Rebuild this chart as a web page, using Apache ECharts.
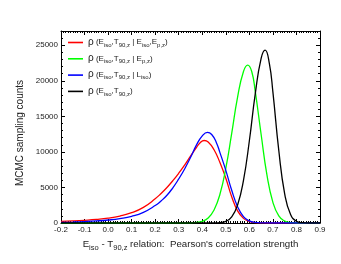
<!DOCTYPE html>
<html>
<head>
<meta charset="utf-8">
<script src="https://cdn.jsdelivr.net/npm/echarts@6/dist/echarts.min.js"></script>
<style>html,body{margin:0;padding:0;background:#fff}#c{width:341px;height:264px}</style>
</head>
<body>
<div id="c"></div>
<script>
// ---- data ----
const seriesNames = [
  'ρ (Eiso,T90,z | Eiso,Ep,z)',
  'ρ (Eiso,T90,z | Ep,z)',
  'ρ (Eiso,T90,z | Liso)',
  'ρ (Eiso,T90,z)'
];
const legendRich = [
  '{r|ρ} {b|(E}{s|iso}{b|,T}{s|90,z}{b| | E}{s|iso}{b|,E}{s|p,z}{b|)}',
  '{r|ρ} {b|(E}{s|iso}{b|,T}{s|90,z}{b| | E}{s|p,z}{b|)}',
  '{r|ρ} {b|(E}{s|iso}{b|,T}{s|90,z}{b| | L}{s|iso}{b|)}',
  '{r|ρ} {b|(E}{s|iso}{b|,T}{s|90,z}{b|)}'
];
const redX = [-0.2,-0.15,-0.1,-0.05,0,0.05,0.1,0.15,0.2,0.225,0.25,0.275,0.3,0.325,0.35,0.375,0.39,0.408,0.425,0.45,0.475,0.5,0.525,0.55,0.575,0.6,0.625,0.65,0.7,0.9];
const redY = [225,290,380,500,680,980,1450,2200,3400,4150,5000,5950,7000,8150,9400,10600,11250,11600,11400,10300,8500,6300,3700,1700,650,220,60,10,0,0];
const greenX = [-0.2,0.35,0.375,0.4,0.425,0.45,0.475,0.5,0.525,0.55,0.575,0.593,0.61,0.625,0.65,0.675,0.7,0.725,0.75,0.775,0.8,0.9];
const greenY = [0,0,70,235,710,1830,4050,7700,12600,17700,21300,22200,21300,18500,12450,6700,2900,1000,275,60,0,0];
const blueX = [-0.2,-0.15,-0.1,-0.05,0,0.05,0.1,0.15,0.2,0.225,0.25,0.275,0.3,0.325,0.35,0.375,0.4,0.422,0.44,0.46,0.475,0.5,0.525,0.55,0.575,0.6,0.625,0.65,0.7,0.9];
const blueY = [90,135,200,290,420,620,940,1500,2450,3100,3900,4950,6200,7600,9200,10950,12250,12750,12450,11300,9900,7400,4600,2300,900,300,80,15,0,0];
const blackX = [-0.2,0.45,0.475,0.5,0.525,0.55,0.575,0.6,0.625,0.65,0.667,0.685,0.7,0.725,0.75,0.775,0.8,0.825,0.85,0.9];
const blackY = [0,0,55,240,870,2530,6000,11570,18150,23150,24300,22400,18400,10200,4100,1200,250,40,0,0];
const xTicks = {min: -0.2, max: 0.9, step: 0.1};
const yTicks = {min: 0, max: 27000, step: 5000, minorStep: 1000};

// ---- chart ----
const FONT = "'Liberation Sans', Arial, sans-serif";
const colors = ['#ff0000', '#00ff00', '#0000ff', '#000000'];
const xs = [redX, greenX, blueX, blackX];
const ys = [redY, greenY, blueY, blackY];
const pairs = (a, b) => a.map((v, i) => [v, b[i]]);

const lineStyle = {color: '#000', width: 1};
function xAx(pos, labels) {
  return {
    type: 'value', position: pos, min: xTicks.min, max: xTicks.max, interval: xTicks.step,
    axisLine: {show: true, onZero: false, lineStyle},
    axisTick: {show: true, inside: true, length: 4, lineStyle},
    minorTick: {show: true, splitNumber: 10, length: 2, lineStyle},
    splitLine: {show: false},
    axisLabel: {show: labels, fontSize: 8, fontFamily: FONT, color: '#222', margin: 3,
      formatter: v => v.toFixed(1)}
  };
}
function yAx(pos, step, len, labels, line) {
  return {
    type: 'value', position: pos, min: yTicks.min, max: yTicks.max, interval: step,
    axisLine: {show: line, onZero: false, lineStyle},
    axisTick: {show: true, inside: true, length: len, lineStyle},
    splitLine: {show: false},
    axisLabel: {show: labels, fontSize: 8, fontFamily: FONT, color: '#222', margin: 3, showMaxLabel: false,
      formatter: v => String(Math.round(v))}
  };
}
const bottomX = xAx('bottom', true);
bottomX.name = '{b|E}{s|iso}{b| - T}{s|90,z}{b| relation:  Pearson\'s correlation strength}';
bottomX.nameLocation = 'middle';
bottomX.nameGap = 14;
bottomX.nameTextStyle = {
  fontFamily: FONT, color: '#222',
  rich: {
    b: {fontSize: 9.7, fontFamily: FONT, color: '#222', lineHeight: 10, padding: [0,0,3,0], verticalAlign: 'bottom'},
    s: {fontSize: 7.5, fontFamily: FONT, color: '#222', lineHeight: 8, verticalAlign: 'bottom'}
  }
};
const leftY = yAx('left', yTicks.step, 4, true, true);
leftY.name = 'MCMC sampling counts';
leftY.nameLocation = 'middle';
leftY.nameGap = 19;
leftY.nameTextStyle = {fontSize: 10, fontFamily: FONT, color: '#222', padding: [0, 12, 0, 0]};

const richMap = {};
seriesNames.forEach((n, i) => richMap[n] = legendRich[i]);

const option = {
  backgroundColor: '#fff',
  animation: false,
  grid: {left: 61, right: 21, top: 31, bottom: 41, containLabel: false},
  xAxis: [bottomX, xAx('top', false)],
  yAxis: [
    leftY,
    yAx('left', yTicks.minorStep, 2, false, false),
    yAx('right', yTicks.step, 4, false, true),
    yAx('right', yTicks.minorStep, 2, false, false)
  ],
  legend: {
    orient: 'vertical', left: 68, top: 37, padding: 0, itemGap: 5.3,
    itemWidth: 15, itemHeight: 1.6, icon: 'rect',
    data: seriesNames,
    formatter: n => richMap[n],
    textStyle: {
      fontSize: 8, fontFamily: FONT, color: '#222',
      rich: {
        r: {fontSize: 10, fontFamily: FONT, color: '#222', lineHeight: 11, verticalAlign: 'bottom', padding: [0,0,1,0]},
        b: {fontSize: 8, fontFamily: FONT, color: '#222', lineHeight: 9, padding: [0,0,2,0], verticalAlign: 'bottom'},
        s: {fontSize: 6, fontFamily: FONT, color: '#222', lineHeight: 7, verticalAlign: 'bottom'}
      }
    }
  },
  series: seriesNames.map((n, i) => ({
    name: n, type: 'line', data: pairs(xs[i], ys[i]),
    xAxisIndex: 0, yAxisIndex: 0,
    smooth: 0.5, symbol: 'none', showSymbol: false,
    lineStyle: {color: colors[i], width: 1.3}, itemStyle: {color: colors[i]}
  }))
};
const chart = echarts.init(document.getElementById('c'), null, {renderer: 'canvas'});
chart.setOption(option);
</script>
</body>
</html>
